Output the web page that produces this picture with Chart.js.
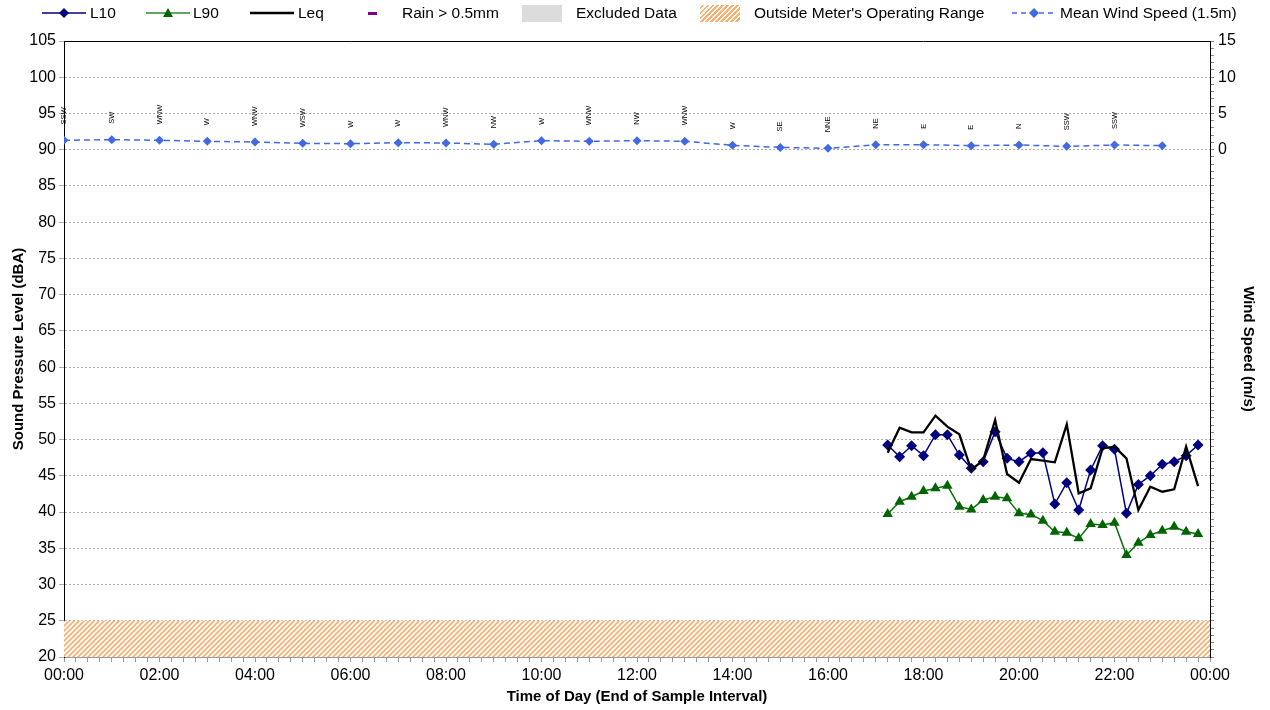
<!DOCTYPE html>
<html><head><meta charset="utf-8">
<script src="https://cdn.jsdelivr.net/npm/chart.js@4.4.0/dist/chart.umd.min.js"></script>
<style>
html,body{margin:0;padding:0;background:#fff;}
#wrap{position:relative;width:1270px;height:710px;overflow:hidden;}
canvas{position:absolute;left:0;top:0;}
.lg{position:absolute;top:4px;height:18px;font:15.5px "Liberation Sans",Arial,sans-serif;color:#000;line-height:18px;white-space:nowrap;}
.lg svg{position:absolute;top:0;left:0;}
</style></head><body>
<div id="wrap"><canvas id="c" width="1270" height="710"></canvas><div id="legend"></div></div>
<script>
// ---- Data ----
const windTimes = ['00:00','01:00','02:00','03:00','04:00','05:00','06:00','07:00','08:00','09:00','10:00','11:00','12:00','13:00','14:00','15:00','16:00','17:00','18:00','19:00','20:00','21:00','22:00','23:00'];
const windSpeed = [1.30,1.39,1.30,1.16,1.06,0.88,0.83,0.97,0.93,0.74,1.25,1.16,1.25,1.16,0.60,0.32,0.19,0.69,0.69,0.56,0.65,0.46,0.65,0.56];
const windDir = ['SSW','SW','WNW','W','WNW','WSW','W','W','WNW','NW','W','WNW','NW','WNW','W','SE','NNE','NE','E','E','N','SSW','SSW',''];
const noiseTimes = ['17:15','17:30','17:45','18:00','18:15','18:30','18:45','19:00','19:15','19:30','19:45','20:00','20:15','20:30','20:45','21:00','21:15','21:30','21:45','22:00','22:15','22:30','22:45','23:00','23:15','23:30','23:45'];
const L10 = [49.25,47.64,49.16,47.78,50.68,50.68,47.87,46.03,46.95,51.09,47.41,46.95,48.10,48.19,41.11,44.05,40.28,45.80,49.16,48.65,39.82,43.82,45.02,46.58,46.95,47.78,49.25];
const L90 = [39.73,41.43,42.12,42.90,43.27,43.64,40.74,40.37,41.66,42.12,41.89,39.82,39.68,38.81,37.29,37.15,36.37,38.35,38.21,38.53,34.07,35.77,36.83,37.43,37.98,37.29,36.97];
const Leq = [48.19,51.64,51.00,51.00,53.30,51.78,50.72,45.80,47.18,52.70,45.25,44.05,47.32,47.09,46.86,52.10,42.58,43.27,48.79,49.02,47.41,40.28,43.50,42.81,43.13,49.02,43.59];
const rangeLimitTimes = ['00:00','24:00'];
const rangeLimit = [25, 25];
const xTickLabels = ['00:00','02:00','04:00','06:00','08:00','10:00','12:00','14:00','16:00','18:00','20:00','22:00','00:00'];

// ---- helpers ----
const FONT = '"Liberation Sans", Arial, sans-serif';
function hrs(t){const p=t.split(':');return +p[0]+(+p[1])/60;}
function pts(times, vals){return times.map((t,i)=>({x:hrs(t),y:vals[i]}));}

const pc = document.createElement('canvas'); pc.width=5; pc.height=5;
const px = pc.getContext('2d');
px.fillStyle='#FFFFFF'; px.fillRect(0,0,5,5);
px.strokeStyle='#FAB070'; px.lineWidth=1.7;
px.beginPath(); px.moveTo(-1,6); px.lineTo(6,-1); px.moveTo(-1,1); px.lineTo(1,-1); px.moveTo(4,6); px.lineTo(6,4); px.stroke();
const hatch = px.createPattern(pc,'repeat');

// ---- Legend (HTML) ----
const hatchCss = 'repeating-linear-gradient(135deg,#FFFFFF 0 1.5px,#FAB070 1.5px 3.5px)';
const legendItems = [
  {left:42, w:48, text:'L10', svg:'<line x1="0" y1="9" x2="44" y2="9" stroke="#000080" stroke-width="1.5"/><polygon points="22,4 27,9 22,14 17,9" fill="#000080"/>'},
  {left:146, w:47, text:'L90', svg:'<line x1="0" y1="9" x2="44" y2="9" stroke="#2E8B2E" stroke-width="1.5"/><polygon points="22,4 27,13 17,13" fill="#006400"/>'},
  {left:250, w:48, text:'Leq', svg:'<line x1="0" y1="9" x2="44" y2="9" stroke="#000" stroke-width="2.5"/>'},
  {left:368, w:34, text:'Rain > 0.5mm', svg:'<rect x="0" y="8" width="9" height="3" fill="#800080"/>'},
  {left:522, w:54, text:'Excluded Data', svg:'<rect x="0" y="1" width="40" height="17" fill="#DCDCDC"/>'},
  {left:700, w:54, text:"Outside Meter's Operating Range", box:true},
  {left:1012, w:48, text:'Mean Wind Speed (1.5m)', svg:'<line x1="0" y1="9" x2="44" y2="9" stroke="#4169E1" stroke-width="1.5" stroke-dasharray="5,4"/><polygon points="22,4 27,9 22,14 17,9" fill="#4169E1"/>'}
];
const lg = document.getElementById('legend');
legendItems.forEach(it=>{
  const d=document.createElement('div'); d.className='lg'; d.style.left=it.left+'px'; d.style.paddingLeft=it.w+'px';
  if(it.box){const b=document.createElement('div');b.style.cssText='position:absolute;left:0;top:1px;width:40px;height:17px;background:'+hatchCss;d.appendChild(b);}
  else{d.innerHTML='<svg width="48" height="18">'+it.svg+'</svg>';}
  const s=document.createElement('span'); s.textContent=it.text; d.appendChild(s);
  lg.appendChild(d);
});

// ---- Plugins ----
const frame = {id:'frame', afterDraw(ch){const a=ch.chartArea,c=ch.ctx;c.save();c.strokeStyle='#000';c.lineWidth=1;c.beginPath();c.moveTo(a.left,a.top+0.5);c.lineTo(a.right,a.top+0.5);c.stroke();c.restore();}};
const windLabels = {id:'windLabels', afterDatasetsDraw(ch){
  const meta=ch.getDatasetMeta(4); const c=ch.ctx; c.save(); c.font='7.5px '+FONT; c.fillStyle='#000'; c.textAlign='left'; c.textBaseline='middle';
  meta.data.forEach((el,i)=>{const t=windDir[i]; if(!t) return; c.save(); c.translate(el.x, el.y-16); c.rotate(-Math.PI/2); c.fillText(t,0,0); c.restore();});
  c.restore();}};

new Chart(document.getElementById('c'), {
  type:'line',
  data:{datasets:[
    {label:'L10', data:pts(noiseTimes,L10), borderColor:'#000080', backgroundColor:'#000080', borderWidth:1.5, pointStyle:'rectRot', pointRadius:5.5, pointBorderWidth:0, tension:0, yAxisID:'y', order:2},
    {label:'L90', data:pts(noiseTimes,L90), borderColor:'#0A700A', backgroundColor:'#006400', borderWidth:1.5, pointStyle:'triangle', pointRadius:6, pointBorderWidth:0, tension:0, yAxisID:'y', order:3},
    {label:'Leq', data:pts(noiseTimes,Leq), borderColor:'#000', borderWidth:2.3, pointRadius:0, tension:0, yAxisID:'y', order:1},
    {label:"Outside Meter's Operating Range", data:pts(rangeLimitTimes,rangeLimit), borderWidth:0, borderColor:'rgba(0,0,0,0)', backgroundColor:hatch, fill:'start', pointRadius:0, yAxisID:'y', order:10},
    {label:'Mean Wind Speed (1.5m)', data:pts(windTimes,windSpeed), borderColor:'#4169E1', backgroundColor:'#4169E1', borderWidth:1.5, borderDash:[6,4], pointStyle:'rectRot', pointRadius:4.5, pointBorderWidth:0, tension:0, yAxisID:'y2', order:4}
  ]},
  options:{
    responsive:false, animation:false, events:[],
    layout:{padding:{top:41,left:0,right:0,bottom:0}},
    plugins:{legend:{display:false}, tooltip:{enabled:false}},
    scales:{
      x:{type:'linear', min:0, max:24,
        ticks:{stepSize:0.25, autoSkip:false, maxRotation:0, minRotation:0, padding:4, color:'#000', font:{family:FONT,size:16},
          callback:(v)=>{const r=Math.round(v*4)/4; if(Math.abs(r%2)<1e-9){return xTickLabels[Math.round(r/2)];} return '';}},
        grid:{drawOnChartArea:false, tickLength:5, tickColor:'#999'},
        border:{color:'#999'},
        title:{display:true, text:'Time of Day (End of Sample Interval)', color:'#000', font:{family:FONT,size:15,weight:'bold'}, padding:{top:0,bottom:4}},
        afterFit:(s)=>{s.height=53;}
      },
      y:{position:'left', min:20, max:105,
        ticks:{stepSize:5, autoSkip:false, padding:3, color:'#000', font:{family:FONT,size:16}},
        grid:{color:'#AAAAAA', tickColor:'#AAAAAA', tickLength:5},
        border:{color:'#000', dash:[2,2]},
        title:{display:true, text:'Sound Pressure Level (dBA)', color:'#000', font:{family:FONT,size:15,weight:'bold'}, padding:{top:10}},
        afterFit:(s)=>{s.width=64;}
      },
      y2:{position:'right', min:-70, max:15,
        ticks:{stepSize:1, autoSkip:false, padding:4, color:'#000', font:{family:FONT,size:16},
          callback:(v)=>(v>=0 && v%5===0)? String(v) : ''},
        grid:{drawOnChartArea:false, tickLength:4, tickColor:'#888'},
        border:{color:'#000'},
        title:{display:true, text:'Wind Speed (m/s)', color:'#000', font:{family:FONT,size:15,weight:'bold'}, padding:{top:13}},
        afterFit:(s)=>{s.width=60;}
      }
    }
  },
  plugins:[frame, windLabels]
});
</script>
</body></html>
